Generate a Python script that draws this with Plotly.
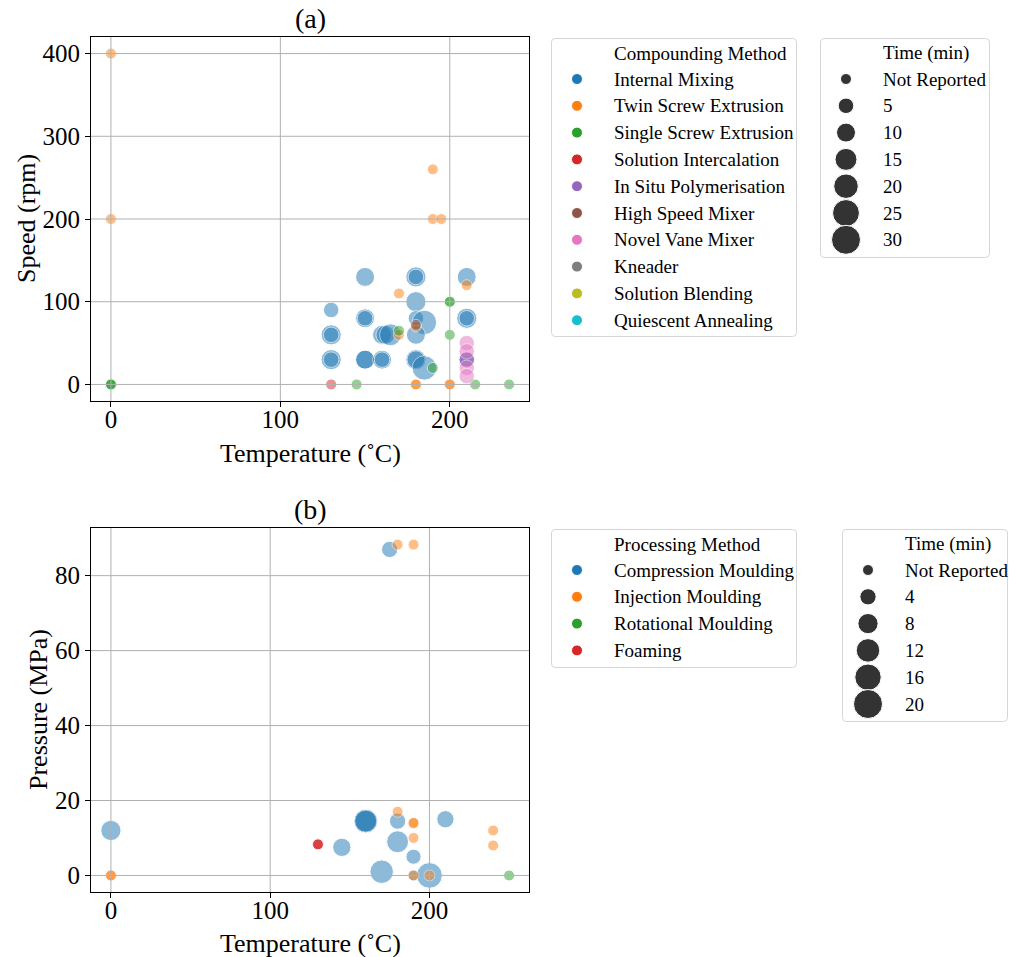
import plotly.graph_objects as go

W, H = 1009, 957
FONT = "Liberation Serif"

# ---------------- data ----------------
compounding_methods = [
    "Internal Mixing", "Twin Screw Extrusion", "Single Screw Extrusion",
    "Solution Intercalation", "In Situ Polymerisation", "High Speed Mixer",
    "Novel Vane Mixer", "Kneader", "Solution Blending", "Quiescent Annealing",
]
processing_methods = ["Compression Moulding", "Injection Moulding",
                      "Rotational Moulding", "Foaming"]

# (a) compounding: method, temperature (C), speed (rpm), time (min, None = not reported)
a_method = [
    "Internal Mixing", "Internal Mixing", "Internal Mixing", "Internal Mixing", "Internal Mixing",
    "Internal Mixing", "Internal Mixing", "Internal Mixing", "Internal Mixing", "Internal Mixing",
    "Internal Mixing", "Internal Mixing", "Internal Mixing", "Internal Mixing", "Internal Mixing",
    "Internal Mixing", "Internal Mixing", "Internal Mixing", "Internal Mixing", "Internal Mixing",
    "Internal Mixing", "Internal Mixing", "Internal Mixing", "Internal Mixing", "Internal Mixing",
    "Internal Mixing", "Internal Mixing", "Internal Mixing",
    "Twin Screw Extrusion", "Twin Screw Extrusion", "Twin Screw Extrusion", "Twin Screw Extrusion",
    "Twin Screw Extrusion", "Twin Screw Extrusion", "Twin Screw Extrusion", "Twin Screw Extrusion",
    "Twin Screw Extrusion", "Twin Screw Extrusion", "Twin Screw Extrusion", "Twin Screw Extrusion",
    "Twin Screw Extrusion",
    "Single Screw Extrusion", "Single Screw Extrusion", "Single Screw Extrusion",
    "Single Screw Extrusion", "Single Screw Extrusion", "Single Screw Extrusion",
    "Single Screw Extrusion", "Single Screw Extrusion", "Single Screw Extrusion",
    "Single Screw Extrusion", "Single Screw Extrusion",
    "Solution Intercalation",
    "In Situ Polymerisation", "In Situ Polymerisation",
    "High Speed Mixer",
    "Novel Vane Mixer", "Novel Vane Mixer", "Novel Vane Mixer", "Novel Vane Mixer",
]
a_temp = [
    130, 130, 130, 130, 130,
    150, 150, 150, 150, 150,
    160, 162, 165, 160, 160,
    180, 180, 180, 180, 185,
    180, 180, 180, 185, 210,
    210, 210, 210,
    0, 0, 190, 190,
    195, 170, 210, 170,
    180, 180, 180, 200,
    200,
    0, 0, 0,
    145, 215, 235,
    200, 200, 200,
    170, 190,
    130,
    210, 210,
    180,
    210, 210, 210, 210,
]
a_speed = [
    90, 60, 60, 30, 30,
    130, 80, 80, 30, 30,
    60, 60, 60, 30, 30,
    130, 130, 100, 80, 75,
    60, 30, 30, 20, 130,
    80, 80, 30,
    400, 200, 260, 200,
    200, 110, 120, 60,
    70, 0, 0, 0,
    0,
    0, 0, 0,
    0, 0, 0,
    100, 100, 60,
    65, 20,
    0,
    30, 30,
    72,
    50, 40, 20, 10,
]
a_time = [
    5, 12, 5, 12, 5,
    10, 10, 5, 10, 10,
    10, 10, 15, 10, 5,
    12, 5, 12, 5, 20,
    10, 12, 8, 20, 10,
    12, 5, 5,
    None, None, None, None,
    None, None, None, None,
    None, None, None, None,
    None,
    None, None, None,
    None, None, None,
    None, None, None,
    None, None,
    None,
    5, 5,
    None,
    5, 5, 5, 5,
]

# (b) processing: method, temperature (C), pressure (MPa), time (min, None = not reported)
b_method = [
    "Compression Moulding", "Compression Moulding", "Compression Moulding", "Compression Moulding",
    "Compression Moulding", "Compression Moulding", "Compression Moulding", "Compression Moulding",
    "Compression Moulding", "Compression Moulding", "Compression Moulding", "Compression Moulding",
    "Compression Moulding",
    "Injection Moulding", "Injection Moulding", "Injection Moulding", "Injection Moulding",
    "Injection Moulding", "Injection Moulding", "Injection Moulding", "Injection Moulding",
    "Injection Moulding", "Injection Moulding", "Injection Moulding", "Injection Moulding",
    "Rotational Moulding",
    "Foaming", "Foaming", "Foaming",
]
b_temp = [
    0, 145, 160, 160,
    160, 170, 175, 180,
    180, 190, 190, 200,
    210,
    0, 0, 180, 190,
    180, 190, 190, 190,
    190, 200, 240, 240,
    250,
    130, 130, 130,
]
b_pressure = [
    12, 7.5, 14.5, 14.5,
    14.5, 1, 87, 14.5,
    9, 5, 0, 0,
    15,
    0, 0, 88.3, 88.3,
    17, 14, 14, 10,
    0, 0, 12, 8,
    0,
    8.3, 8.3, 8.3,
]
b_time = [
    8, 6, 12, 12,
    10, 12, 4, 4,
    10, 3, None, 15,
    5,
    None, None, None, None,
    None, None, None, None,
    None, None, None, None,
    None,
    None, None, None,
]

# size-key entries
a_size_keys = [None, 5, 10, 15, 20, 25, 30]
b_size_keys = [None, 4, 8, 12, 16, 20]

# ---------------- styling ----------------
tab10 = ["#1f77b4", "#ff7f0e", "#2ca02c", "#d62728", "#9467bd",
         "#8c564b", "#e377c2", "#7f7f7f", "#bcbd22", "#17becf"]
KEY_GREY = "#333333"


def diam_a(t):
    return (121 + 24 * (t or 0)) ** 0.5


def diam_b(t):
    return (121 + 36 * (t or 0)) ** 0.5


def px_dom_x(left, right):
    return [left / W, right / W]


def px_dom_y(top, bottom):
    return [1 - bottom / H, 1 - top / H]


fig = go.Figure()


def add_scatter(methods, order, xs, ys, ts, diam, xa, ya):
    for ci, m in enumerate(order):
        idx = [i for i, mm in enumerate(methods) if mm == m]
        if not idx:
            continue
        fig.add_trace(go.Scatter(
            x=[xs[i] for i in idx], y=[ys[i] for i in idx], mode="markers",
            marker=dict(color=tab10[ci], size=[diam(ts[i]) for i in idx], opacity=0.5,
                        line=dict(color="white", width=1)),
            xaxis=xa, yaxis=ya, showlegend=False, name=m,
            hovertemplate=m + "<br>%{x}, %{y}<extra></extra>"))


add_scatter(a_method, compounding_methods, a_temp, a_speed, a_time, diam_a, "x", "y")
add_scatter(b_method, processing_methods, b_temp, b_pressure, b_time, diam_b, "x2", "y2")

shapes = []
annotations = []
GRID = "#b0b0b0"


def grid(xref, yref, xt, yt):
    for v in xt:
        shapes.append(dict(type="line", xref=xref, yref=yref + " domain", x0=v, x1=v, y0=0, y1=1,
                           line=dict(color=GRID, width=1), layer="above"))
    for v in yt:
        shapes.append(dict(type="line", xref=xref + " domain", yref=yref, x0=0, x1=1, y0=v, y1=v,
                           line=dict(color=GRID, width=1), layer="above"))


a_xticks = [0, 100, 200]
a_yticks = [0, 100, 200, 300, 400]
b_xticks = [0, 100, 200]
b_yticks = [0, 20, 40, 60, 80]
grid("x", "y", a_xticks, a_yticks)
grid("x2", "y2", b_xticks, b_yticks)

axis_common = dict(showgrid=False, zeroline=False, showline=True, mirror=True,
                   linecolor="black", linewidth=1.2, ticks="outside", ticklen=5,
                   tickwidth=1.1, tickcolor="black",
                   tickfont=dict(family=FONT, size=25, color="black"))
xaxis_extra = dict(ticklabelstandoff=-9)
title_font = dict(family=FONT, size=26, color="black")


def key_box(n, top, left, width, height, title, labels, colors, sizes):
    """Draw a boxed key on a hidden pixel-scaled axis pair."""
    xa, ya = "x%d" % n, "y%d" % n
    fig.add_trace(go.Scatter(
        x=[26] * len(labels), y=[41 + 26.8 * i for i in range(len(labels))],
        mode="markers", xaxis=xa, yaxis=ya, showlegend=False, hoverinfo="skip",
        marker=dict(color=colors, size=sizes, opacity=1,
                    line=dict(color="white", width=1))))
    fig.layout["xaxis%d" % n] = dict(domain=px_dom_x(left, left + width), range=[0, width],
                                     visible=False, fixedrange=True, anchor=ya)
    fig.layout["yaxis%d" % n] = dict(domain=px_dom_y(top, top + height), range=[height, 0],
                                     visible=False, fixedrange=True, anchor=xa)
    r = 4
    w, h = width - 0.5, height - 0.5
    path = (f"M {r},0.5 L {w - r},0.5 Q {w},0.5 {w},{r} L {w},{h - r} Q {w},{h} {w - r},{h} "
            f"L {r},{h} Q 0.5,{h} 0.5,{h - r} L 0.5,{r} Q 0.5,0.5 {r},0.5 Z")
    shapes.append(dict(type="path", xref=xa, yref=ya, path=path,
                       line=dict(color="#d6d6d6", width=1), layer="below"))
    annotations.append(dict(xref=xa, yref=ya, x=61, y=15, text=title, showarrow=False,
                            xanchor="left", yanchor="middle",
                            font=dict(family=FONT, size=19, color="black")))
    for i, lab in enumerate(labels):
        annotations.append(dict(xref=xa, yref=ya, x=61, y=41 + 26.8 * i, text=lab,
                                showarrow=False, xanchor="left", yanchor="middle",
                                font=dict(family=FONT, size=19, color="black")))


key_box(3, 38, 551, 246, 299, "Compounding Method", compounding_methods, tab10, [11] * 10)
key_box(4, 38, 820, 170, 220, "Time (min)",
        ["Not Reported" if t is None else str(t) for t in a_size_keys],
        [KEY_GREY] * len(a_size_keys), [diam_a(t) for t in a_size_keys])
key_box(5, 529, 551, 246, 139, "Processing Method", processing_methods, tab10[:4], [11] * 4)
key_box(6, 529, 842, 166, 193, "Time (min)",
        ["Not Reported" if t is None else str(t) for t in b_size_keys],
        [KEY_GREY] * len(b_size_keys), [diam_b(t) for t in b_size_keys])

# panel titles
for lab, xr, yr in [("(a)", "x", "y"), ("(b)", "x2", "y2")]:
    annotations.append(dict(xref=xr + " domain", yref=yr + " domain", x=0.5, y=1, yshift=1,
                            text=lab, showarrow=False, xanchor="center", yanchor="bottom",
                            font=dict(family=FONT, size=28, color="black")))

# axis titles
for text, cx, cy, ang in [("Temperature (˚C)", 310, 453, 0),
                          ("Speed (rpm)", 27, 219, -90),
                          ("Temperature (˚C)", 310, 943, 0),
                          ("Pressure (MPa)", 38, 710, -90)]:
    annotations.append(dict(xref="paper", yref="paper", x=cx / W, y=1 - cy / H, text=text,
                            textangle=ang, showarrow=False, xanchor="center", yanchor="middle",
                            font=title_font))

fig.update_layout(
    width=W, height=H, margin=dict(l=0, r=0, t=0, b=0),
    paper_bgcolor="white", plot_bgcolor="white",
    font=dict(family=FONT, color="black"),
    xaxis=dict(domain=px_dom_x(91, 529), range=[-11.75, 246.75], tickvals=a_xticks,
               anchor="y", **axis_common, **xaxis_extra),
    yaxis=dict(domain=px_dom_y(37, 401), range=[-20, 420], tickvals=a_yticks,
               anchor="x", **axis_common),
    xaxis2=dict(domain=px_dom_x(91, 529), range=[-12.5, 262.5], tickvals=b_xticks,
                anchor="y2", **axis_common, **xaxis_extra),
    yaxis2=dict(domain=px_dom_y(528, 892), range=[-4.415, 92.715], tickvals=b_yticks,
                anchor="x2", **axis_common),
    shapes=shapes, annotations=annotations, showlegend=False,
)

fig.write_html("out.html")
